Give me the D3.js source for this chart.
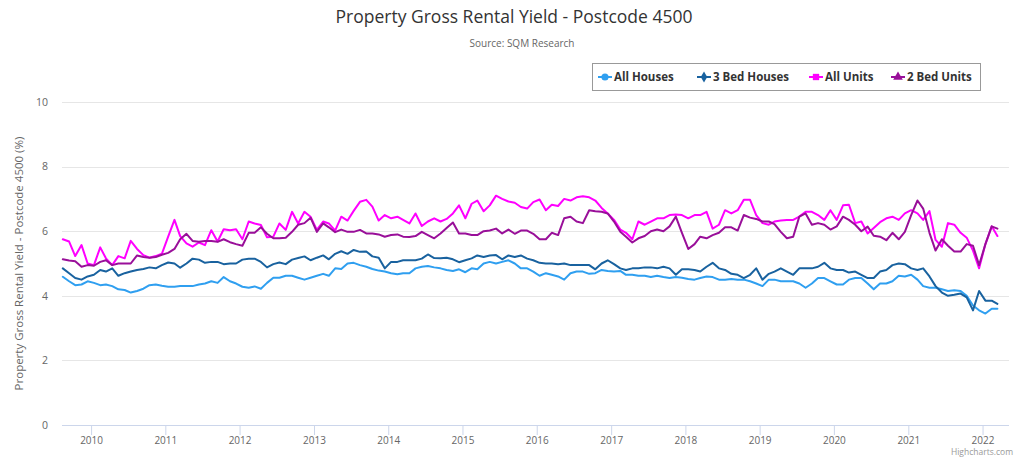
<!DOCTYPE html>
<html>
<head>
<meta charset="utf-8">
<script src="https://cdn.jsdelivr.net/npm/d3@7"></script>
<style>
  html, body { margin: 0; padding: 0; background: #fff; }
  svg { display: block; font-family: "Open Sans", "DejaVu Sans", sans-serif; }
</style>
</head>
<body>
<svg id="chart" width="1024" height="457"></svg>
<script>
// ---- Data (monthly, starting Aug 2009) ----
const startYear = 2009, startMonth = 7; // August (0-based)
const yearTicks = [2010, 2011, 2012, 2013, 2014, 2015, 2016, 2017, 2018, 2019, 2020, 2021, 2022];
const yTicks = [0, 2, 4, 6, 8, 10];
const seriesNames = ["All Houses", "3 Bed Houses", "All Units", "2 Bed Units"];

const allHouses = [
  4.59,4.45,4.33,4.35,4.45,4.4,4.33,4.35,4.3,4.2,4.18,4.1,4.15,4.22,4.33,4.35,4.31,4.28,4.28,4.3,4.3,4.3,4.35,4.38,4.45,4.4,4.58,4.45,4.38,4.28,4.25,
  4.29,4.22,4.4,4.56,4.56,4.62,4.62,4.56,4.5,4.56,4.62,4.68,4.62,4.85,4.83,5.0,5.02,4.95,4.9,4.83,4.78,4.75,4.7,4.67,4.7,4.7,4.85,4.9,4.92,4.88,
  4.85,4.8,4.77,4.82,4.73,4.85,4.82,5.0,5.05,5.0,5.05,5.1,5.0,4.85,4.85,4.75,4.62,4.7,4.65,4.6,4.5,4.7,4.75,4.75,4.68,4.7,4.8,4.77,4.75,4.77,4.65,
  4.65,4.62,4.62,4.58,4.62,4.58,4.55,4.58,4.56,4.52,4.5,4.55,4.6,4.58,4.5,4.5,4.52,4.5,4.5,4.45,4.38,4.3,4.5,4.5,4.45,4.45,4.45,4.38,4.25,4.38,4.55,
  4.55,4.45,4.35,4.35,4.5,4.55,4.55,4.38,4.2,4.38,4.38,4.45,4.62,4.6,4.65,4.5,4.3,4.25,4.25,4.2,4.15,4.17,4.15,4.0,3.7,3.55,3.45,3.6,3.6
];
const bed3Houses = [
  4.85,4.7,4.55,4.5,4.6,4.65,4.8,4.75,4.85,4.62,4.7,4.75,4.8,4.83,4.88,4.85,4.95,5.03,5.0,4.87,5.0,5.15,5.12,5.02,5.05,5.05,4.98,5.0,5.0,5.12,5.15,
  5.15,5.05,4.88,4.98,5.03,4.98,5.12,5.17,5.22,5.1,5.18,5.25,5.13,5.3,5.38,5.3,5.42,5.36,5.37,5.22,5.18,4.85,5.05,5.05,5.1,5.1,5.1,5.15,5.28,5.17,
  5.16,5.18,5.13,5.04,5.1,5.16,5.25,5.2,5.25,5.26,5.13,5.25,5.2,5.25,5.15,5.1,5.02,5.0,5.0,4.98,5.0,4.95,4.95,4.95,4.95,4.82,5.0,5.1,4.98,4.85,4.8,
  4.85,4.85,4.88,4.88,4.85,4.9,4.85,4.65,4.82,4.82,4.8,4.75,4.9,5.02,4.85,4.8,4.68,4.65,4.55,4.65,4.85,4.5,4.68,4.75,4.85,4.75,4.65,4.85,4.85,4.85,4.9,
  5.02,4.85,4.8,4.8,4.72,4.75,4.65,4.55,4.55,4.75,4.8,4.95,5.0,4.98,4.85,4.8,4.85,4.6,4.3,4.1,4.0,4.03,4.07,3.95,3.55,4.15,3.85,3.85,3.75
];
const allUnits = [
  5.75,5.68,5.23,5.57,5.0,4.95,5.5,5.16,4.95,5.23,5.16,5.7,5.45,5.26,5.18,5.23,5.3,5.83,6.35,5.85,5.62,5.52,5.65,5.57,6.03,5.68,6.06,6.03,6.06,5.75,6.3,
  6.24,6.19,5.81,5.83,6.24,6.04,6.6,6.24,6.6,6.45,6.04,6.3,6.24,6.02,6.45,6.33,6.63,6.91,6.97,6.76,6.33,6.5,6.4,6.45,6.35,6.24,6.55,6.16,6.3,6.4,
  6.3,6.38,6.55,6.8,6.4,6.85,6.95,6.62,6.8,7.1,7.0,6.92,6.88,6.75,6.7,6.9,6.98,6.65,6.82,6.78,7.0,6.95,7.05,7.08,7.05,6.95,6.72,6.55,6.35,6.05,5.95,
  5.75,6.3,6.2,6.3,6.4,6.4,6.5,6.52,6.5,6.4,6.5,6.5,6.6,6.08,6.2,6.65,6.55,6.65,6.97,6.97,6.5,6.25,6.2,6.3,6.33,6.35,6.35,6.45,6.6,6.6,6.5,
  6.35,6.65,6.35,6.8,6.82,6.25,6.3,5.93,6.1,6.28,6.4,6.45,6.35,6.55,6.65,6.55,6.35,6.62,5.73,5.52,6.25,6.2,5.95,5.8,5.4,4.85,5.6,6.15,5.85
];
const bed2Units = [
  5.13,5.09,5.07,4.9,4.95,4.93,5.05,5.1,4.95,5.0,5.0,5.0,5.25,5.2,5.18,5.2,5.27,5.33,5.45,5.75,5.92,5.7,5.67,5.7,5.7,5.67,5.75,5.66,5.6,5.55,5.95,
  5.95,6.12,5.92,5.78,5.78,5.8,5.98,6.2,6.25,6.42,5.98,6.24,6.12,5.97,6.05,5.98,5.98,6.04,5.93,5.93,5.9,5.83,5.88,5.9,5.83,5.82,5.85,5.98,5.88,5.78,
  5.93,6.1,6.27,5.93,5.93,5.88,5.88,6.0,6.02,6.08,5.93,6.05,5.92,6.02,6.02,5.92,5.75,5.75,5.95,5.88,6.4,6.45,6.3,6.25,6.65,6.62,6.6,6.55,6.3,5.98,5.83,
  5.65,5.78,5.85,6.0,6.05,6.0,6.15,6.45,5.95,5.45,5.6,5.83,5.78,5.88,5.95,6.12,6.12,6.02,6.5,6.42,6.38,6.3,6.3,6.22,5.98,5.78,5.83,6.45,6.55,6.2,6.25,
  6.2,6.05,6.15,6.45,6.35,6.2,6.0,6.14,5.86,5.83,5.72,5.95,5.75,5.98,6.5,6.95,6.7,5.95,5.4,5.75,5.55,5.37,5.37,5.6,5.55,4.95,5.6,6.15,6.08
];

// ---- Layout ----
const svg = d3.select("#chart");
const W = 1024, H = 457;
const plot = { left: 62, right: 1009, top: 102, bottom: 425 };
const colors = ["#2f9ff0", "#19629f", "#ff00ff", "#990f99"];
const symbols = [d3.symbolCircle, d3.symbolDiamond, d3.symbolSquare, d3.symbolTriangle];
const seriesValues = [allHouses, bed3Houses, allUnits, bed2Units];
const FONT = "Open Sans, DejaVu Sans, sans-serif";

const dateOf = i => new Date(startYear, startMonth + i, 15);

const x = d3.scaleTime()
  .domain([new Date(2009, 7, 11), new Date(2022, 4, 11)])
  .range([plot.left, plot.right]);
const y = d3.scaleLinear().domain([0, 10]).range([plot.bottom, plot.top]);

// Title & subtitle
svg.append("text").attr("x", W / 2 + 2).attr("y", 23).attr("text-anchor", "middle")
  .attr("font-size", 17.5).attr("fill", "#333333").text("Property Gross Rental Yield - Postcode 4500");
svg.append("text").attr("x", W / 2 + 10).attr("y", 47).attr("text-anchor", "middle")
  .attr("font-size", 10).attr("fill", "#666666").text("Source: SQM Research");

// Grid lines
const grid = svg.append("g");
grid.selectAll("line").data(yTicks.filter(d => d !== 0)).join("line")
  .attr("x1", plot.left).attr("x2", plot.right)
  .attr("y1", d => Math.round(y(d)) + 0.5).attr("y2", d => Math.round(y(d)) + 0.5)
  .attr("stroke", "#e6e6e6").attr("stroke-width", 1);

// Y axis labels
const yAxis = d3.axisLeft(y).tickValues(yTicks).tickSize(0).tickPadding(0).tickFormat(d3.format("d"));
const gy = svg.append("g").attr("transform", `translate(${plot.left - 14},0)`).call(yAxis);
gy.select(".domain").remove();
gy.selectAll("text").attr("font-size", 10.5).attr("fill", "#666666").attr("font-family", FONT).attr("dy", "0.32em");

// X axis
const xAxis = d3.axisBottom(x)
  .tickValues(yearTicks.map(yr => new Date(yr, 0, 1)))
  .tickSize(10).tickPadding(2).tickFormat(d3.timeFormat("%Y"));
const gx = svg.append("g").attr("transform", `translate(0,${plot.bottom})`).call(xAxis);
gx.select(".domain").attr("stroke", "#ccd6eb").attr("d", `M${plot.left},0.5H${plot.right}`);
gx.selectAll(".tick line").attr("stroke", "#ccd6eb");
gx.selectAll("text").attr("font-size", 10).attr("fill", "#666666").attr("font-family", FONT);

// Y axis title
svg.append("text")
  .attr("transform", `translate(23,${(plot.top + plot.bottom) / 2}) rotate(-90)`)
  .attr("text-anchor", "middle").attr("font-size", 11.5).attr("fill", "#666666")
  .text("Property Gross Rental Yield - Postcode 4500 (%)");

// Lines
const line = d3.line().x((d, i) => x(dateOf(i))).y(d => y(d));
const gl = svg.append("g");
seriesValues.forEach((vals, k) => {
  gl.append("path").datum(vals).attr("d", line)
    .attr("fill", "none").attr("stroke", colors[k]).attr("stroke-width", 2)
    .attr("stroke-linejoin", "round").attr("stroke-linecap", "round");
});

// Legend
const legend = svg.append("g");
legend.append("rect").attr("x", 592.5).attr("y", 63.5).attr("width", 388).attr("height", 27)
  .attr("fill", "#fff").attr("stroke", "#999999").attr("stroke-width", 1).attr("rx", 0);
const itemX = [598, 697, 809, 891];
seriesNames.forEach((name, k) => {
  const g = legend.append("g").attr("transform", `translate(${itemX[k]},77)`);
  g.append("line").attr("x1", 0).attr("x2", 14).attr("y1", 0).attr("y2", 0)
    .attr("stroke", colors[k]).attr("stroke-width", 2);
  g.append("path").attr("transform", "translate(7,0)")
    .attr("d", d3.symbol().type(symbols[k]).size(k === 1 ? 36 : 40)())
    .attr("fill", colors[k]);
  g.append("text").attr("x", 16).attr("y", 0).attr("dy", "0.35em")
    .attr("font-size", 11.5).attr("font-weight", "bold").attr("fill", "#333333").text(name);
});

// Credits
svg.append("text").attr("x", 1013).attr("y", 455).attr("text-anchor", "end")
  .attr("font-size", 8.5).attr("fill", "#999999").text("Highcharts.com");
</script>
</body>
</html>
